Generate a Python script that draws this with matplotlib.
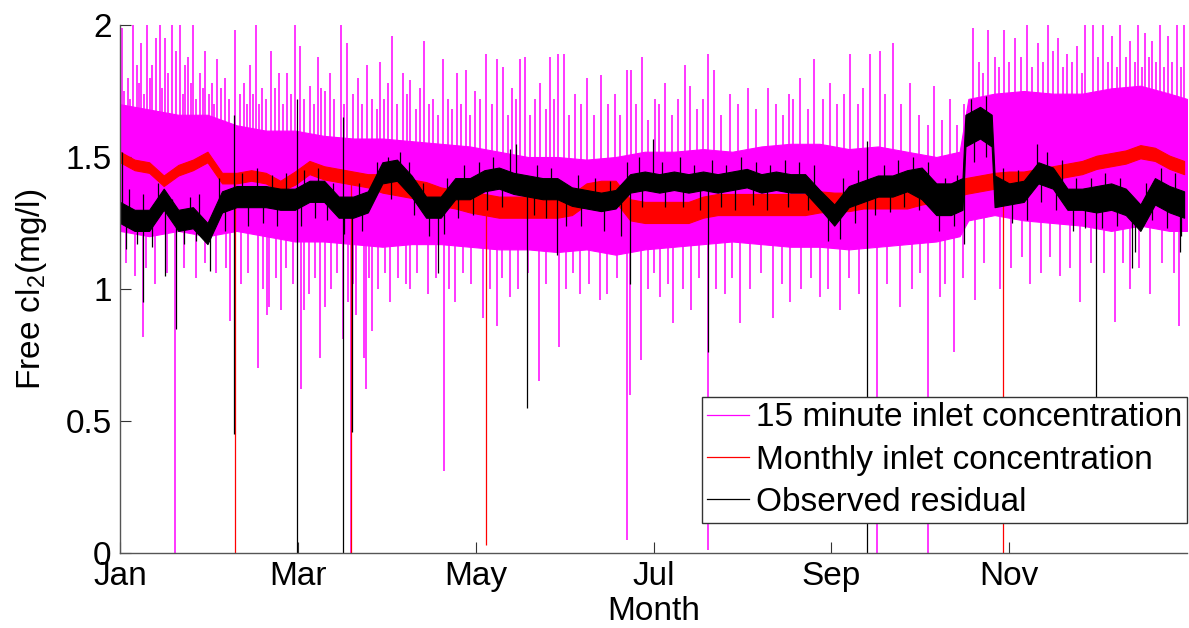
import numpy as np
import matplotlib
matplotlib.use("Agg")
import matplotlib.pyplot as plt

plt.rcParams["font.family"] = ["Liberation Sans", "DejaVu Sans"]
plt.rcParams["mathtext.default"] = "regular"

# ---------------- data (x in day of year) ----------------
month_start = [0, 31, 59, 90, 120, 151, 181, 212, 243, 273, 304, 334]
tick_days = [0, 61, 122, 183, 244, 305]
tick_labels = ["Jan", "Mar", "May", "Jul", "Sep", "Nov"]

# 15 minute inlet concentration: dense core band + spikes
mag_day = [0, 10, 20, 30, 40, 50, 60, 70, 80, 90, 100, 110, 120, 130, 140, 150,
           160, 170, 180, 190, 200, 210, 220, 230, 240, 250, 260, 270, 280, 288,
           291, 300, 310, 320, 330, 340, 350, 360, 366]
mag_hi = [1.70, 1.68, 1.66, 1.66, 1.62, 1.60, 1.60, 1.58, 1.57, 1.57, 1.56, 1.55,
          1.54, 1.52, 1.50, 1.50, 1.49, 1.50, 1.52, 1.52, 1.53, 1.52, 1.54, 1.55,
          1.55, 1.53, 1.54, 1.52, 1.50, 1.52, 1.72, 1.74, 1.75, 1.74, 1.74, 1.76,
          1.77, 1.74, 1.72]
mag_lo = [1.22, 1.20, 1.22, 1.20, 1.22, 1.20, 1.18, 1.18, 1.17, 1.16, 1.17, 1.17,
          1.16, 1.15, 1.15, 1.14, 1.15, 1.13, 1.15, 1.16, 1.17, 1.18, 1.17, 1.16,
          1.16, 1.15, 1.16, 1.17, 1.18, 1.20, 1.26, 1.28, 1.26, 1.25, 1.24, 1.22,
          1.24, 1.22, 1.22]
# tall spikes
mag_up_day = [0.7, 2.7, 4.5, 5.8, 7.2, 9.3, 11.0, 12.3, 13.7, 15.4, 17.8, 19.2, 20.6,
              22.3, 23.3, 25.0, 27.4, 29.2, 31.6, 33.3, 36.0, 39.5, 42.5, 44.6, 46.7,
              48.7, 51.8, 54.5, 57.3, 60.0, 61.7, 65.2, 67.9, 70.3, 72.0, 75.8, 77.9,
              81.6, 84.7, 89.2, 91.9, 93.3, 97.1, 99.5, 104.3, 107.4, 110.8, 115.6,
              118.7, 121.8, 125.6, 129.3, 131.4, 134.5, 137.2, 138.9, 144.1, 147.5,
              150.3, 152.3, 156.1, 160.2, 165.0, 169.8, 173.9, 175.3, 179.1, 183.5,
              187.0, 193.8, 195.5, 201.7, 203.8, 209.3, 215.4, 222.3, 229.5, 233.3,
              238.1, 243.6, 250.4, 257.3, 260.7, 265.2, 271.0, 279.2, 284.7, 292.6,
              297.8, 303.3, 307.0, 311.1, 314.9, 318.4, 321.8, 324.9, 328.3, 331.0,
              333.8, 337.2, 340.3, 343.1, 346.5, 349.2, 351.6, 354.0, 356.8, 359.5,
              362.6, 365.0]
mag_up_top = [1.99, 1.80, 2.00, 1.85, 1.93, 2.00, 1.85, 1.95, 2.00, 1.95, 2.00, 1.90,
              2.00, 1.85, 1.88, 2.00, 1.82, 1.90, 1.78, 1.87, 1.80, 1.98, 1.78, 1.85,
              2.00, 1.76, 1.90, 1.82, 1.82, 2.00, 1.92, 1.77, 1.88, 1.75, 1.82, 2.00,
              1.93, 1.80, 1.85, 1.86, 1.78, 1.96, 1.82, 1.79, 1.94, 1.72, 1.87, 1.82,
              1.83, 1.75, 1.89, 1.87, 1.84, 1.76, 1.87, 1.88, 1.78, 1.88, 1.89, 1.89,
              1.74, 1.80, 1.81, 1.74, 1.83, 1.83, 1.88, 1.72, 1.78, 1.85, 1.77, 1.89,
              1.83, 1.74, 1.76, 1.76, 1.74, 1.80, 1.87, 1.78, 1.89, 1.89, 1.90, 1.93,
              1.78, 1.77, 1.72, 1.99, 1.98, 1.98, 1.95, 2.00, 1.93, 2.00, 1.95, 1.89,
              1.92, 2.00, 2.00, 2.00, 1.96, 2.00, 1.94, 2.00, 1.97, 1.94, 2.00, 1.96,
              2.00, 2.00]
# shorter spikes that give the band its ragged top edge
mag_up2_day = [1.5, 3.6, 6.5, 8.3, 10.2, 14.5, 16.6, 21.5, 24.2, 26.2, 28.3, 30.5,
               32.4, 34.8, 37.5, 41.0, 43.5, 45.6, 47.8, 50.2, 53.0, 56.0, 58.5, 63.0,
               66.5, 69.0, 73.5, 76.8, 79.8, 83.0, 86.5, 88.0, 90.5, 95.0, 98.3, 101.5,
               103.0, 106.0, 109.0, 112.5, 114.0, 117.0, 120.0, 123.5, 127.5, 133.0,
               136.0, 140.5, 142.5, 146.0, 149.0, 154.0, 158.0, 162.5, 167.5, 171.5,
               177.0, 181.0, 185.0, 189.5, 191.5, 198.0, 200.0, 206.0, 212.0, 218.0,
               225.0, 227.5, 231.0, 236.0, 241.0, 246.0, 248.5, 253.0, 255.0, 262.5,
               268.0, 274.0, 277.0, 282.0, 287.0, 289.5, 294.5, 296.0, 300.0, 301.5,
               305.0, 309.0, 313.0, 316.5, 320.0, 323.5, 326.5, 330.0, 335.5, 339.0,
               342.0, 345.0, 348.0, 350.5, 353.0, 355.5, 358.0, 361.0, 364.0]
mag_up2_top = [1.75, 1.72, 1.78, 1.74, 1.80, 1.76, 1.82, 1.74, 1.78, 1.72, 1.76, 1.74,
               1.70, 1.76, 1.72, 1.74, 1.70, 1.74, 1.70, 1.72, 1.76, 1.70, 1.74, 1.72,
               1.70, 1.76, 1.72, 1.70, 1.74, 1.70, 1.72, 1.68, 1.72, 1.70, 1.74, 1.68,
               1.76, 1.70, 1.66, 1.72, 1.68, 1.70, 1.66, 1.72, 1.70, 1.66, 1.72, 1.66,
               1.72, 1.68, 1.72, 1.66, 1.70, 1.66, 1.70, 1.66, 1.70, 1.64, 1.70, 1.66,
               1.72, 1.68, 1.72, 1.66, 1.70, 1.68, 1.70, 1.66, 1.72, 1.68, 1.72, 1.70,
               1.74, 1.70, 1.76, 1.74, 1.70, 1.66, 1.62, 1.64, 1.62, 1.70, 1.86, 1.82,
               1.88, 1.84, 1.86, 1.88, 1.84, 1.86, 1.90, 1.84, 1.86, 1.82, 1.88, 1.86,
               1.84, 1.88, 1.86, 1.84, 1.88, 1.86, 1.84, 1.86, 1.84]
mag_dn_day = [7.9, 18.9, 37.7, 47.3, 50.4, 51.1, 55.2, 62.1, 63.1, 68.6, 70.3, 76.5,
              78.2, 79.2, 81.0, 83.7, 84.4, 86.4, 92.6, 99.5, 111.1, 114.9, 124.5,
              129.3, 133.8, 143.7, 150.6, 157.8, 164.7, 173.9, 175.0, 178.7, 185.2,
              189.7, 195.9, 201.7, 207.5, 212.7, 224.0, 229.8, 240.1, 247.0, 259.7,
              267.6, 277.2, 281.3, 286.1, 293.3, 301.9, 312.2, 322.5, 329.3, 341.3,
              346.5, 353.3, 363.3]
mag_dn_bot = [0.82, 0.00, 0.88, 0.70, 0.90, 0.93, 0.92, 0.62, 0.92, 0.74, 0.93, 0.81,
              0.95, 0.00, 0.90, 0.74, 0.62, 0.84, 0.95, 1.00, 0.31, 0.95, 0.89, 0.86,
              0.97, 0.65, 0.78, 0.98, 0.96, 0.05, 0.60, 0.73, 0.97, 0.87, 0.92, 0.01,
              0.98, 0.87, 0.89, 0.95, 0.97, 0.92, 0.00, 0.93, 0.00, 0.97, 0.76, 0.96,
              1.00, 1.02, 1.05, 0.95, 0.875, 1.00, 0.98, 0.86]
mag_dn2_day = [2.0, 5.0, 9.0, 12.0, 16.0, 22.0, 26.0, 29.0, 33.0, 36.5, 41.5, 44.0,
               49.0, 53.5, 57.0, 59.5, 65.0, 67.0, 72.5, 74.5, 80.0, 85.5, 88.5, 91.0,
               95.5, 98.0, 102.0, 105.5, 108.5, 113.0, 117.5, 120.5, 127.0, 131.0,
               136.5, 140.0, 146.0, 153.0, 155.5, 161.0, 167.0, 170.5, 181.0, 183.0,
               188.0, 193.0, 198.5, 204.5, 210.0, 216.0, 220.0, 227.0, 233.5, 237.0,
               243.0, 250.0, 253.5, 263.0, 271.5, 274.5, 283.0, 289.0, 296.5, 305.5,
               309.5, 316.0, 319.0, 326.0, 333.0, 337.5, 344.0, 349.5, 357.5, 361.5]
mag_dn2_bot = [1.10, 1.05, 1.08, 1.02, 1.06, 1.08, 1.04, 1.10, 1.06, 1.08, 1.02, 1.06,
               1.00, 1.04, 1.08, 1.02, 0.98, 1.04, 1.00, 1.06, 1.02, 1.04, 1.00, 1.06,
               1.04, 1.02, 1.06, 0.98, 1.04, 1.00, 1.06, 1.02, 1.00, 1.04, 1.00, 1.06,
               1.02, 1.00, 1.06, 1.02, 0.98, 1.04, 1.00, 1.06, 1.02, 1.00, 1.04, 1.00,
               1.04, 1.00, 1.06, 1.02, 1.00, 1.04, 1.00, 1.04, 0.98, 1.02, 1.00, 1.06,
               1.02, 1.04, 1.10, 1.08, 1.12, 1.06, 1.12, 1.08, 1.10, 1.06, 1.10, 1.08,
               1.10, 1.06]

# Monthly inlet concentration: centre line + monthly noise half-width + drop-outs
red_day = list(range(0, 366, 5))
red_mid = [1.50, 1.47, 1.46, 1.41, 1.45, 1.47, 1.50, 1.42, 1.42, 1.43, 1.42, 1.39,
           1.42, 1.46, 1.44, 1.43, 1.42, 1.41, 1.40, 1.39, 1.38, 1.37, 1.35, 1.34,
           1.33, 1.32, 1.31, 1.31, 1.31, 1.31, 1.31, 1.32, 1.36, 1.37, 1.37, 1.30,
           1.29, 1.29, 1.29, 1.29, 1.31, 1.32, 1.32, 1.32, 1.32, 1.32, 1.32, 1.32,
           1.33, 1.33, 1.33, 1.34, 1.34, 1.34, 1.34, 1.35, 1.36, 1.36, 1.39, 1.40,
           1.41, 1.42, 1.42, 1.43, 1.44, 1.45, 1.46, 1.48, 1.49, 1.50, 1.52, 1.51,
           1.48, 1.46]
red_half = [0.02, 0.02, 0.025, 0.035, 0.04, 0.04, 0.04, 0.04, 0.035, 0.03, 0.025, 0.025]
red_dn_day = [39.3, 79.2, 125.6, 302.9]
red_dn_bot = [0.00, 0.00, 0.03, 0.00]

# Observed residual
blk_day = [0, 5, 10, 15, 20, 25, 30, 35, 40, 45, 50, 55, 60, 65, 70, 75, 80, 85, 90,
           95, 100, 105, 110, 115, 120, 125, 130, 135, 140, 145, 150, 155, 160, 165,
           170, 175, 180, 185, 190, 195, 200, 205, 210, 215, 220, 225, 230, 235, 240,
           245, 250, 255, 260, 265, 270, 275, 280, 285, 289, 290, 295, 299, 300, 305,
           310, 315, 320, 325, 330, 335, 340, 345, 350, 355, 360, 365]
blk_mid = [1.29, 1.26, 1.26, 1.34, 1.26, 1.27, 1.21, 1.33, 1.35, 1.35, 1.35, 1.34,
           1.34, 1.37, 1.37, 1.31, 1.31, 1.33, 1.44, 1.45, 1.39, 1.31, 1.31, 1.38,
           1.38, 1.41, 1.42, 1.40, 1.39, 1.38, 1.38, 1.35, 1.34, 1.33, 1.34, 1.40,
           1.41, 1.40, 1.41, 1.40, 1.41, 1.40, 1.41, 1.42, 1.40, 1.41, 1.40, 1.40,
           1.34, 1.28, 1.35, 1.37, 1.39, 1.39, 1.41, 1.40, 1.34, 1.34, 1.36, 1.60,
           1.63, 1.60, 1.37, 1.36, 1.37, 1.44, 1.42, 1.34, 1.34, 1.34, 1.35, 1.33,
           1.27, 1.37, 1.34, 1.32]
blk_half = [0.04, 0.04, 0.04, 0.04, 0.04, 0.035, 0.035, 0.035, 0.04, 0.06, 0.04, 0.05]
blk_up_day = [0.7, 39.1, 60.7, 76.5, 96.0, 133.8, 136.0, 182.8, 256.3, 314.6,
              3, 8, 13, 18, 24, 27, 34, 42, 47, 52, 57, 63, 68, 73, 82, 88, 92, 99,
              104, 112, 118, 123, 128, 143, 148, 157, 163, 168, 174, 178, 186, 192,
              197, 203, 208, 213, 218, 223, 228, 233, 238, 248, 253, 262, 267, 272,
              277, 283, 287, 292, 297, 303, 308, 318, 323, 328, 333, 338, 343, 352,
              357, 362]
blk_up_top = [1.52, 1.66, 1.72, 1.65, 1.52, 1.53, 1.55, 1.57, 1.56, 1.55,
              1.38, 1.36, 1.40, 1.34, 1.35, 1.36, 1.42, 1.44, 1.46, 1.43, 1.44, 1.45,
              1.46, 1.40, 1.40, 1.48, 1.50, 1.48, 1.40, 1.42, 1.47, 1.48, 1.50, 1.47,
              1.46, 1.43, 1.42, 1.41, 1.48, 1.50, 1.48, 1.50, 1.47, 1.49, 1.47, 1.50,
              1.48, 1.47, 1.49, 1.48, 1.47, 1.42, 1.45, 1.47, 1.49, 1.50, 1.48, 1.42,
              1.43, 1.72, 1.73, 1.46, 1.45, 1.52, 1.49, 1.42, 1.42, 1.44, 1.42, 1.40,
              1.46, 1.44]
blk_dn_day = [7.9, 15.4, 19.2, 30.9, 39.1, 60.7, 76.5, 79.6, 109.0, 139.6, 150.0,
              175.0, 201.7, 256.3, 289.5, 334.8, 347.0, 363.6,
              2, 6, 11, 22, 26, 36, 44, 49, 54, 62, 67, 71, 77, 83, 93, 101, 106,
              111, 116, 121, 126, 131, 142, 146, 153, 158, 166, 172, 179, 187, 193,
              199, 206, 211, 217, 222, 229, 236, 243, 247, 252, 259, 264, 269, 274,
              281, 286, 293, 297, 306, 311, 316, 321, 327, 331, 337, 342, 348, 354,
              359, 364]
blk_dn_bot = [0.95, 1.05, 0.85, 1.07, 0.45, 0.00, 0.00, 0.46, 1.06, 0.55, 1.13,
              1.02, 0.76, 0.00, 1.17, 0.58, 1.08, 1.14,
              1.15, 1.17, 1.16, 1.17, 1.18, 1.22, 1.24, 1.25, 1.24, 1.24, 1.27, 1.26,
              1.21, 1.22, 1.34, 1.28, 1.20, 1.21, 1.27, 1.28, 1.30, 1.31, 1.28, 1.27,
              1.24, 1.24, 1.22, 1.20, 1.31, 1.31, 1.31, 1.30, 1.31, 1.30, 1.32, 1.30,
              1.31, 1.30, 1.18, 1.19, 1.25, 1.28, 1.29, 1.31, 1.30, 1.22, 1.24, 1.48,
              1.50, 1.25, 1.26, 1.33, 1.30, 1.22, 1.23, 1.23, 1.24, 1.14, 1.26, 1.23,
              1.20]

# ---------------- plot ----------------
MAG, RED, BLK = "#ff00ff", "#ff0000", "#000000"
FS = 24

fig = plt.figure(figsize=(11.89, 6.28), dpi=100)
ax = fig.add_axes([120 / 1189, 75 / 628, 1067 / 1189, 528 / 628])


def month_of(days):
    return np.searchsorted(month_start, np.asarray(days), side="right") - 1


def spikes(day, tip, base_day, base_val, color, z, lw=0.9):
    base = np.interp(day, base_day, base_val)
    ax.vlines(day, base, tip, color=color, lw=lw, zorder=z)


# magenta
mag_mid = (np.array(mag_lo) + np.array(mag_hi)) / 2
ax.fill_between(mag_day, mag_lo, mag_hi, color=MAG, lw=0.8, zorder=1)
spikes(mag_up_day, mag_up_top, mag_day, mag_mid, MAG, 1.1, 1.1)
spikes(mag_up2_day, mag_up2_top, mag_day, mag_mid, MAG, 1.1, 1.1)
spikes(mag_dn_day, mag_dn_bot, mag_day, mag_mid, MAG, 1.1, 1.1)
spikes(mag_dn2_day, mag_dn2_bot, mag_day, mag_mid, MAG, 1.1, 1.1)

# red
r_mid = np.array(red_mid)
r_half = np.array(red_half)[month_of(red_day)]
spikes(red_dn_day, red_dn_bot, red_day, r_mid, RED, 1.9)
ax.fill_between(red_day, r_mid - r_half, r_mid + r_half, color=RED, lw=0.8, zorder=2)

# black
b_mid = np.array(blk_mid)
b_half = np.array(blk_half)[month_of(blk_day)]
ax.fill_between(blk_day, b_mid - b_half, b_mid + b_half, color=BLK, lw=0.8, zorder=3)
spikes(blk_up_day, blk_up_top, blk_day, b_mid, BLK, 3.1)
spikes(blk_dn_day, blk_dn_bot, blk_day, b_mid, BLK, 3.1)

# legend proxies
h1, = ax.plot([], [], color=MAG, lw=0.9, label="15 minute inlet concentration")
h2, = ax.plot([], [], color=RED, lw=0.9, label="Monthly inlet concentration")
h3, = ax.plot([], [], color=BLK, lw=0.9, label="Observed residual")

ax.set_xlim(0, 366)
ax.set_ylim(0, 2)
ax.set_xticks(tick_days)
ax.set_xticklabels(tick_labels)
ax.set_yticks([0, 0.5, 1, 1.5, 2])
ax.set_yticklabels(["0", "0.5", "1", "1.5", "2"])
ax.tick_params(direction="in", length=8, width=0.8, labelsize=FS, color="#333333")
ax.tick_params(axis="y", pad=6)
ax.tick_params(axis="x", pad=6)
for s in ["top", "right"]:
    ax.spines[s].set_visible(False)
for s in ["left", "bottom"]:
    ax.spines[s].set_color("#555555")
    ax.spines[s].set_linewidth(1.0)
    ax.spines[s].set_zorder(5)

ax.set_xlabel("Month", fontsize=FS, labelpad=3)
ax.set_ylabel("Free cl$_2$(mg/l)", fontsize=FS, labelpad=12)

leg = ax.legend(handles=[h1, h2, h3], loc="lower right", bbox_to_anchor=(1.0, 30 / 528),
                fontsize=FS, frameon=True, fancybox=False, borderaxespad=0,
                handlelength=1.25, handletextpad=0.2, borderpad=0.15,
                labelspacing=0.34, framealpha=1)
leg.get_frame().set_edgecolor("#333333")
leg.get_frame().set_linewidth(1.0)
leg.set_zorder(10)

fig.savefig("out.png", dpi=100)
